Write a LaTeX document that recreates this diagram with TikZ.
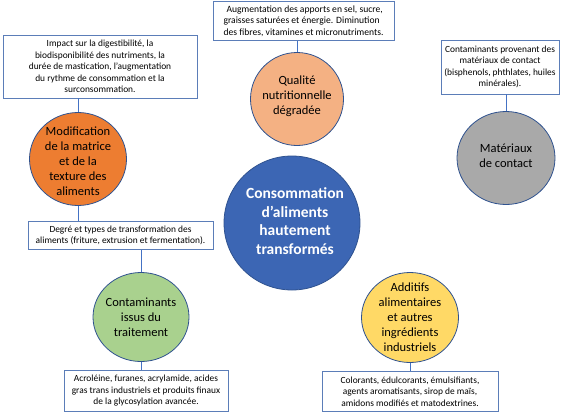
\documentclass[tikz,border=0pt]{standalone}
\usepackage{fontspec}
\setmainfont{Carlito}
\usetikzlibrary{shapes.geometric}
\definecolor{linkblue}{HTML}{4472C4}
\definecolor{boxedge}{HTML}{5B7DB8}
\definecolor{ringblue}{HTML}{2F528F}
\definecolor{corange}{HTML}{ED7D31}
\definecolor{cpeach}{HTML}{F4B183}
\definecolor{cgray}{HTML}{A9A9A9}
\definecolor{cblue}{HTML}{3C66B4}
\definecolor{cgreen}{HTML}{A9D18E}
\definecolor{cyellow}{HTML}{FFD966}
\tikzset{
  infobox/.style={draw=boxedge, line width=0.9pt, fill=white, inner sep=0pt, align=center,
    font=\fontsize{9.4}{11.5}\selectfont},
  disc/.style={ellipse, draw=ringblue, line width=0.8pt, inner sep=0pt},
  disctext/.style={align=center, inner sep=0pt, font=\fontsize{12.5}{15}\selectfont},
  link/.style={draw=linkblue, line width=1pt}
}
\begin{document}
\begin{tikzpicture}[x=1pt,y=-1pt]
\useasboundingbox (0,0) rectangle (565,413);
% circles
\node[disc, fill=corange, minimum width=97, minimum height=93] (c1) at (78,159) {};
\node[disc, fill=cpeach, minimum width=93, minimum height=93] (c2) at (297,99) {};
\node[disc, fill=cgray, minimum width=98, minimum height=93] (c3) at (506,158) {};
\node[disc, fill=cblue, minimum width=136, minimum height=134] (c0) at (292,223) {};
\node[disc, fill=cgreen, minimum width=96, minimum height=89] (c4) at (141,317) {};
\node[disc, fill=cyellow, minimum width=97, minimum height=90] (c5) at (410,317.5) {};
\node[disctext] (t1) at (78,161) {Modification\\de la matrice\\et de la\\texture des\\aliments};
\node[disctext] (t2) at (297,96.5) {Qualité\\nutritionnelle\\dégradée};
\node[disctext] (t3) at (506,156) {Matériaux\\de contact};
\node[disctext, text=white, font=\fontsize{15.5}{18.7}\selectfont\bfseries] (t0) at (295,221)
  {Consommation\\d’aliments\\hautement\\transformés};
\node[disctext] (t4) at (141,317) {Contaminants\\issus du\\traitement};
\node[disctext] (t5) at (410,317) {Additifs\\alimentaires\\et autres\\ingrédients\\industriels};
% boxes
\node[infobox, minimum width=194, minimum height=63] (b1) at (100,66.5)
  {Impact sur la digestibilité, la\\biodisponibilité des nutriments, la\\durée de mastication, l’augmentation\\du rythme de consommation et la\\surconsommation.};
\node[infobox, minimum width=181, minimum height=39, align=left,
  font=\fontsize{9.6}{11.5}\selectfont] (b2) at (303.5,21)
  {\hspace*{3pt}Augmentation des apports en sel, sucre,\\graisses saturées et énergie. Diminution\\des fibres, vitamines et micronutriments.};
\node[infobox, minimum width=118, minimum height=54] (b3) at (500,67)
  {Contaminants provenant des\\matériaux de contact\\(bisphenols, phthlates, huiles\\minérales).};
\node[infobox, minimum width=185, minimum height=28] (b4) at (120.5,235.5)
  {Degré et types de transformation des\\aliments (friture, extrusion et fermentation).};
\node[infobox, minimum width=164, minimum height=41] (b5) at (146,391)
  {Acroléine, furanes, acrylamide, acides\\gras trans industriels et produits finaux\\de la glycosylation avancée.};
\node[infobox, minimum width=176, minimum height=40] (b6) at (410,391.5)
  {Colorants, édulcorants, émulsifiants,\\agents aromatisants, sirop de maïs,\\amidons modifiés et matodextrines.};
% connectors
\draw[link] (c1.north) -- (c1.north |- b1.south);
\draw[link] (c1.south) -- (c1.south |- b4.north);
\draw[link] (c4.north) -- (c4.north |- b4.south);
\draw[link] (c4.south) -- (c4.south |- b5.north);
\draw[link] (c2.north) -- (c2.north |- b2.south);
\draw[link] (c3.north) -- (c3.north |- b3.south);
\draw[link] (c5.south) -- (c5.south |- b6.north);
\end{tikzpicture}
\end{document}
